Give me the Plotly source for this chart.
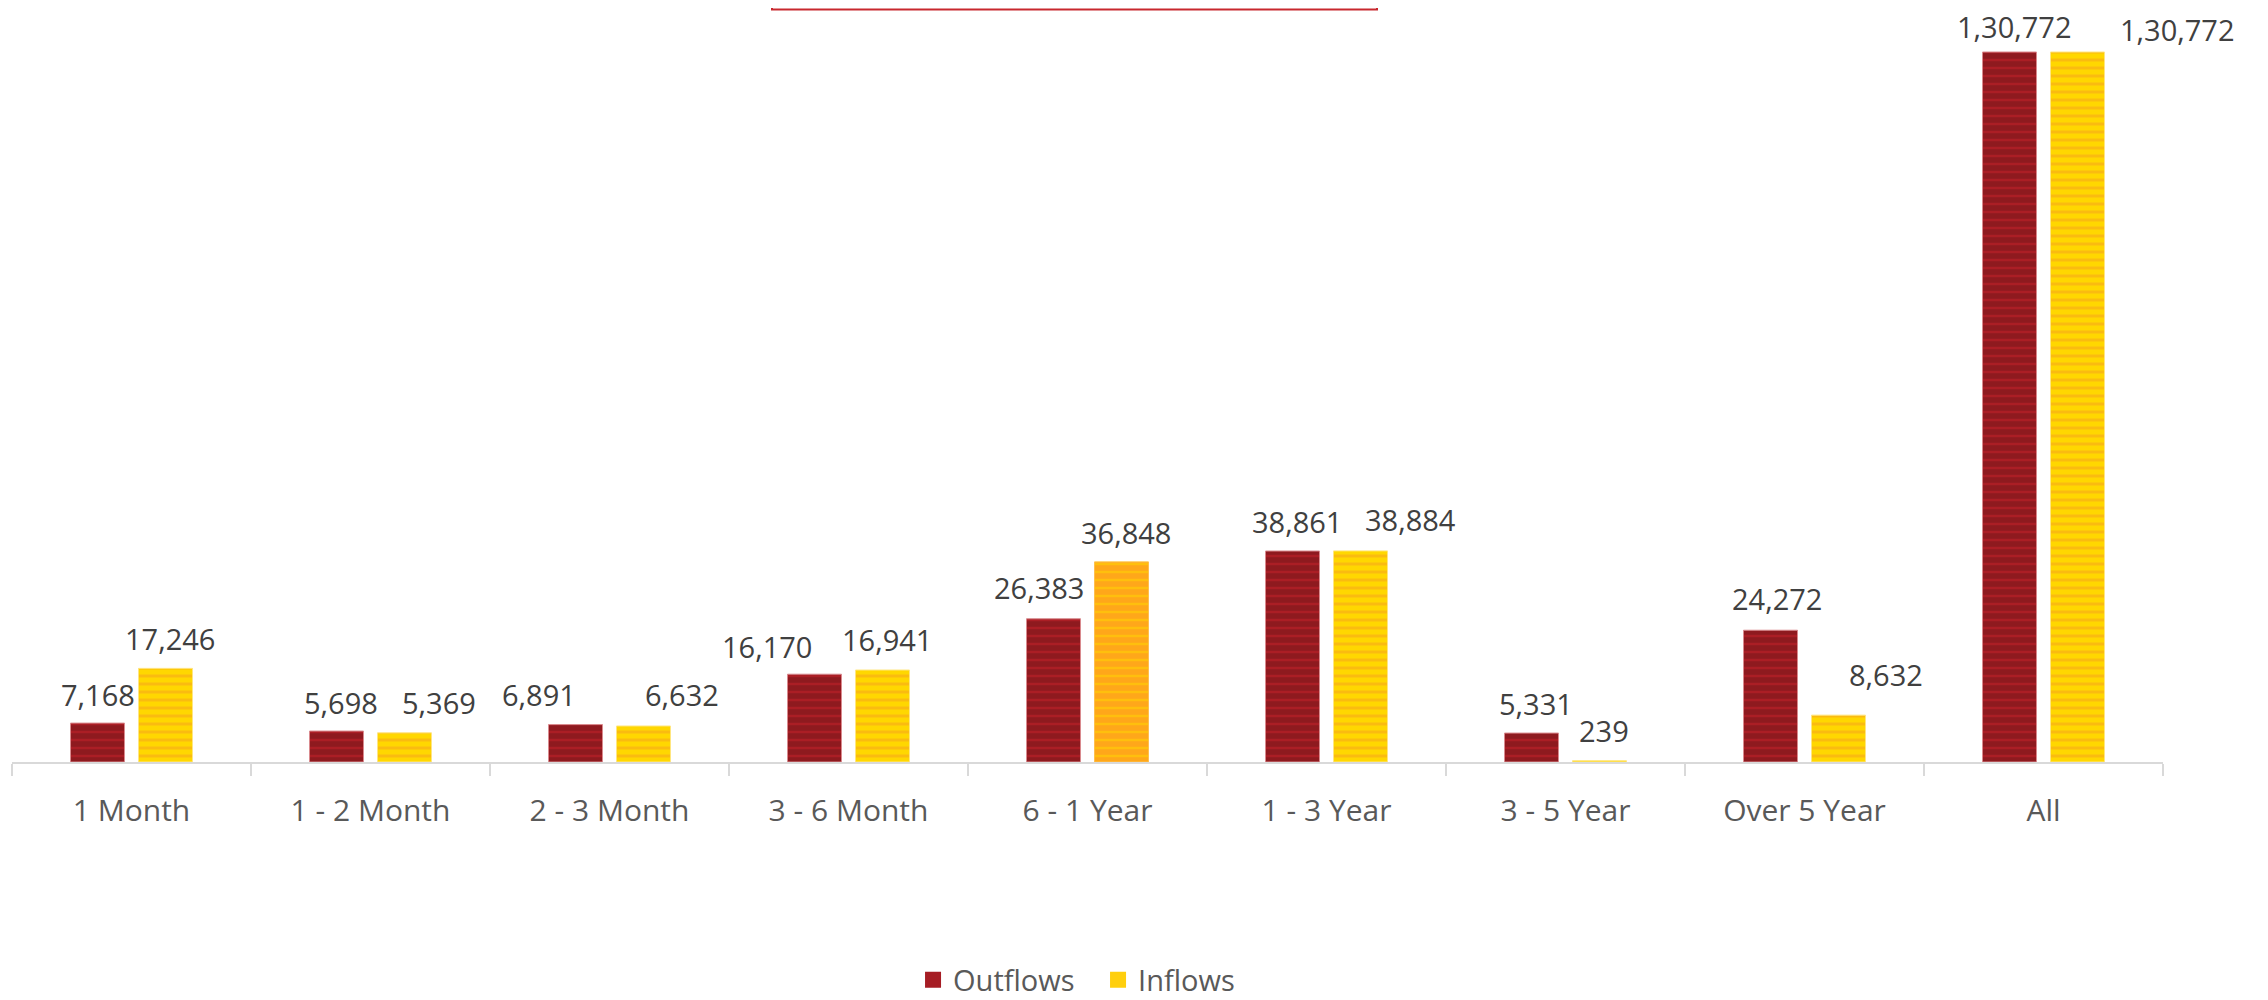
import plotly.graph_objects as go

# ---------------- data ----------------
categories = ["1 Month", "1 - 2 Month", "2 - 3 Month", "3 - 6 Month", "6 - 1 Year",
              "1 - 3 Year", "3 - 5 Year", "Over 5 Year", "All"]
outflows = [7168, 5698, 6891, 16170, 26383, 38861, 5331, 24272, 130772]
inflows = [17246, 5369, 6632, 16941, 36848, 38884, 239, 8632, 130772]

# ---------------- styling ----------------
FONT = "Open Sans"
FS = 29
OUT_BG = "#8e1a1f"
OUT_FG = "#c8222c"
IN_BG = "#ffd700"
IN_FG = "#f5a020"
HL_BG = "#ffa71a"   # highlighted inflow point (6 - 1 Year)
HL_FG = "#ffd700"
highlight_idx = 4

# label displacement (px) relative to bar centre / bar top
out_dx = [0, 4, -37, -48, -15, 4, 4, 6, 5]
out_dy = [29, 29, 30, 28, 31, 30, 30, 32, 26]
in_dx = [4, 34, 38, 4, 4, 50, 4, 47, 100]
in_dy = [30, 30, 31, 31, 29, 31, 30, 41, 23]


def indian(n):
    s = str(int(n))
    if len(s) <= 3:
        return s
    last3 = s[-3:]
    rest = s[:-3]
    parts = []
    while len(rest) > 2:
        parts.insert(0, rest[-2:])
        rest = rest[:-2]
    if rest:
        parts.insert(0, rest)
    return ",".join(parts) + "," + last3


in_hl = [v if i == highlight_idx else None for i, v in enumerate(inflows)]

fig = go.Figure()
fig.add_trace(go.Bar(
    name="Outflows", x=categories, y=outflows, showlegend=False, legendgroup="out",
    offsetgroup="out",
    marker=dict(color=OUT_BG,
                line=dict(color="#d98a8e", width=1),
                pattern=dict(shape="-", fgcolor=OUT_FG,
                             size=8, solidity=0.3, fillmode="overlay")),
))
fig.add_trace(go.Bar(
    name="Inflows", x=categories, y=inflows, showlegend=False, legendgroup="in",
    offsetgroup="in",
    marker=dict(color=IN_BG,
                line=dict(color="#ffe680", width=1),
                pattern=dict(shape="-", fgcolor=IN_FG,
                             size=8, solidity=0.38, fillmode="overlay")),
))
# highlighted inflow bar: orange fill with yellow pattern, drawn over the base bar
fig.add_trace(go.Bar(
    name="Inflows", x=categories, y=in_hl, showlegend=False, legendgroup="in",
    offsetgroup="in", hoverinfo="skip",
    marker=dict(color=HL_BG, line=dict(color="#ffc04d", width=1),
                pattern=dict(shape="-", fgcolor=HL_FG,
                             size=8, solidity=0.3, fillmode="overlay")),
))
# legend entries (larger square swatches)
fig.add_trace(go.Scatter(name="Outflows", x=[None], y=[None], mode="markers", legendgroup="out",
                         marker=dict(symbol="square", size=18, color="#a61d24")))
fig.add_trace(go.Scatter(name="Inflows", x=[None], y=[None], mode="markers", legendgroup="in",
                         marker=dict(symbol="square", size=18, color="#ffcf0d")))

# page has an 8px body margin, the figure is sized/offset to compensate
W, H = 2250, 992
ML, MT = 4, 0
PW, PH = 2151, 754
MR, MB = W - ML - PW, H - MT - PH
bar_off = 34  # px from category centre to each bar centre
for i, c in enumerate(categories):
    fig.add_annotation(x=c, y=outflows[i], text=indian(outflows[i]), showarrow=False,
                       xshift=-bar_off + out_dx[i], yshift=out_dy[i], yanchor="middle",
                       font=dict(family=FONT, size=FS, color="#404040"))
    fig.add_annotation(x=c, y=inflows[i], text=indian(inflows[i]), showarrow=False,
                       xshift=bar_off + in_dx[i], yshift=in_dy[i], yanchor="middle",
                       font=dict(family=FONT, size=FS, color="#404040"))

# cut-off title box at the top
fig.add_shape(type="rect", xref="paper", yref="paper",
              x0=(764 - ML) / PW, x1=(1369 - ML) / PW,
              y0=(PH - 1.5) / PH, y1=1.2,
              line=dict(color="#c8282e", width=2), fillcolor="rgba(0,0,0,0)")

fig.update_layout(
    width=W, height=H,
    margin=dict(l=ML, r=MR, t=MT, b=MB, autoexpand=False),
    paper_bgcolor="white", plot_bgcolor="white",
    barmode="group", bargap=0.431, bargroupgap=0.206,
    font=dict(family=FONT, size=FS, color="#595959"),
    showlegend=True,
    legend=dict(orientation="h", x=0.5049, xanchor="center",
                y=-(972 - PH) / PH, yanchor="middle", entrywidth=140,
                font=dict(family=FONT, size=FS, color="#595959"),
                itemclick=False, bgcolor="rgba(0,0,0,0)"),
    xaxis=dict(range=[-0.5, 8.5], automargin=False,
               showline=True, linecolor="#d9d9d9", linewidth=2,
               ticks="outside", tickson="boundaries", ticklen=12, tickwidth=2,
               tickcolor="#d9d9d9", showgrid=False, zeroline=False,
               ticklabelstandoff=21,
               tickfont=dict(family=FONT, size=30, color="#595959")),
    yaxis=dict(visible=False, range=[0, 138876], showgrid=False, zeroline=False,
               automargin=False),
)

fig.write_html("out.html")
